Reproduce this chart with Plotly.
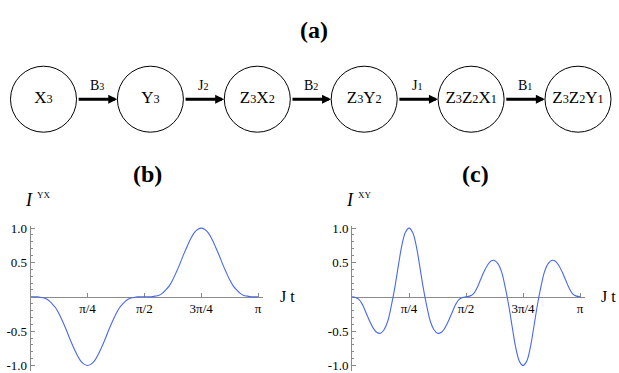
#!/usr/bin/env python3
# -*- coding: utf-8 -*-
'''
chain diagram (a) and the two correlation curves (b), (c)
'''

import math
import plotly.graph_objs as go

W, H = 619, 373
SERIF = "Liberation Serif"


def sub(s):
    # small digit sitting near the baseline, as in the figure
    return '<span style="font-size:72%">' + s + '</span>'


# diagram (a): nodes and the couplings on the arrows between them
node_labels = ["X" + sub("3"), "Y" + sub("3"), "Z" + sub("3") + "X" + sub("2"),
               "Z" + sub("3") + "Y" + sub("2"), "Z" + sub("3") + "Z" + sub("2") + "X" + sub("1"),
               "Z" + sub("3") + "Z" + sub("2") + "Y" + sub("1")]
edge_labels = ["B" + sub("3"), "J" + sub("2"), "B" + sub("2"), "J" + sub("1"), "B" + sub("1")]

# sample times J t = k*pi/64, k = 0..64
t_vals = [k * math.pi / 64 for k in range(65)]

# (b) I^YX
b_vals = [0, 0, 0, -0.01, -0.02, -0.05, -0.10, -0.16, -0.25, -0.36, -0.48, -0.61, -0.73, -0.84, -0.93, -0.98, -1.00,
          -0.98, -0.93, -0.84, -0.73, -0.61, -0.48, -0.36, -0.25, -0.16, -0.10, -0.05, -0.02, -0.01, 0, 0, 0,
          0, 0, 0.01, 0.02, 0.05, 0.10, 0.16, 0.25, 0.36, 0.48, 0.61, 0.73, 0.84, 0.93, 0.98, 1.00,
          0.98, 0.93, 0.84, 0.73, 0.61, 0.48, 0.36, 0.25, 0.16, 0.10, 0.05, 0.02, 0.01, 0, 0, 0]

# (c) I^XY
c_vals = [0, -0.01, -0.04, -0.12, -0.24, -0.36, -0.46, -0.52, -0.53, -0.48, -0.36, -0.14, 0.13, 0.45, 0.75, 0.94, 1.00,
          0.94, 0.75, 0.45, 0.13, -0.14, -0.36, -0.48, -0.53, -0.52, -0.46, -0.36, -0.24, -0.12, -0.04, -0.01, 0,
          0.01, 0.04, 0.12, 0.24, 0.36, 0.46, 0.52, 0.53, 0.48, 0.36, 0.14, -0.13, -0.45, -0.75, -0.94, -1.00,
          -0.94, -0.75, -0.45, -0.13, 0.14, 0.36, 0.48, 0.53, 0.52, 0.46, 0.36, 0.24, 0.12, 0.04, 0.01, 0]

x_tickvals = [math.pi / 4, math.pi / 2, 3 * math.pi / 4, math.pi]
x_ticktext = ["π/4", "π/2", "3π/4", "π"]
y_tickvals = [1.0, 0.5, -0.5, -1.0]
y_ticktext = ["1.0", "0.5", "-0.5", "-1.0"]
y_minor = [-0.9, -0.8, -0.7, -0.6, -0.4, -0.3, -0.2, -0.1, 0.1, 0.2, 0.3, 0.4, 0.6, 0.7, 0.8, 0.9]

AXIS_COL = "#8a8a8a"
LINE_COL = "rgb(72,104,240)"


def px(x):
    return x / W


def py(y):
    return 1 - y / H


def x_axis(x0, x1):
    return dict(domain=[px(x0), px(x1)], range=[0, 3.21], anchor="free", position=py(297.3),
                showline=True, linecolor=AXIS_COL, linewidth=1, showgrid=False, zeroline=False,
                ticks="inside", ticklen=4, tickcolor=AXIS_COL, tickvals=x_tickvals, ticktext=x_ticktext,
                tickfont=dict(family=SERIF, size=13, color="black"), layer="below traces")


def y_axis(anchor):
    return dict(domain=[0, 0.396], range=[-1.08, 1.03], anchor=anchor,
                showline=True, linecolor=AXIS_COL, linewidth=1, showgrid=False, zeroline=False,
                ticks="inside", ticklen=4, tickcolor=AXIS_COL, tickvals=y_tickvals, ticktext=y_ticktext,
                minor=dict(tickvals=y_minor, ticks="inside", ticklen=2, tickcolor=AXIS_COL),
                tickfont=dict(family=SERIF, size=13, color="black"), ticklabeloverflow="allow",
                layer="below traces")


def label(x, y, text, size, bold=False):
    return dict(x=px(x), y=py(y), xref="paper", yref="paper", xanchor="center", yanchor="middle",
                text=("<b>" + text + "</b>") if bold else text, showarrow=False,
                font=dict(family=SERIF, size=size, color="black"))


def draw():
    trace_b = go.Scatter(x=t_vals, y=b_vals, mode="lines", line=dict(color=LINE_COL, width=1.1, shape="spline"),
                         xaxis="x", yaxis="y", showlegend=False, hoverinfo="skip")
    trace_c = go.Scatter(x=t_vals, y=c_vals, mode="lines", line=dict(color=LINE_COL, width=1.1, shape="spline"),
                         xaxis="x2", yaxis="y2", showlegend=False, hoverinfo="skip")
    # diagram nodes: open circles on a hidden axis, one unit = one node step
    trace_nodes = go.Scatter(x=list(range(len(node_labels))), y=[0] * len(node_labels),
                             mode="markers+text", text=node_labels, textposition="middle center",
                             textfont=dict(family=SERIF, size=17, color="black"),
                             marker=dict(size=66, color="white", line=dict(color="black", width=1)),
                             xaxis="x3", yaxis="y3", showlegend=False, hoverinfo="skip", cliponaxis=False)

    ann = []
    # arrows and coupling labels
    for i, lab in enumerate(edge_labels):
        ann.append(dict(x=i + 1 - 0.31, y=0, ax=i + 0.315, ay=0, xref="x3", yref="y3", axref="x3", ayref="y3",
                        text="", showarrow=True, arrowhead=2, arrowsize=0.6, arrowwidth=3, arrowcolor="black",
                        standoff=0, startstandoff=0))
        ann.append(dict(x=i + 0.5, y=13.5, xref="x3", yref="y3", xanchor="center", yanchor="middle",
                        text=lab, showarrow=False, font=dict(family=SERIF, size=14, color="black")))

    # panel titles
    ann.append(label(314, 25, "(a)", 24, bold=True))
    ann.append(label(147.5, 172, "(b)", 24, bold=True))
    ann.append(label(475, 172, "(c)", 24, bold=True))

    # axis labels
    for x0, sup in [(30.7, "YX"), (352, "XY")]:
        ann.append(label(x0 - 1.5, 199, "<i>I</i>", 18))
        ann.append(label(x0 + 13, 193.5, sup, 9))
    for x0 in [287, 608]:
        ann.append(label(x0, 297.5, "J t", 16))

    layout = go.Layout(
        width=W, height=H, margin=dict(l=0, r=0, t=0, b=0),
        paper_bgcolor="white", plot_bgcolor="rgba(0,0,0,0)",
        xaxis=x_axis(30.7, 263), yaxis=y_axis("x"),
        xaxis2=x_axis(352, 585), yaxis2=y_axis("x2"),
        xaxis3=dict(domain=[0, 1], range=[-0.4069, 5.3835], visible=False, anchor="y3"),
        yaxis3=dict(domain=[0, 1], range=[-277, 96], visible=False, anchor="x3"),
        annotations=ann,
    )
    figure = go.Figure(data=[trace_b, trace_c, trace_nodes], layout=layout)
    # page body has a default 8px margin; drop it so the figure sits at the corner
    figure.write_html("out.html", config={"displayModeBar": False},
                      post_script="document.body.style.margin='0';")


if __name__ == "__main__":
    draw()
